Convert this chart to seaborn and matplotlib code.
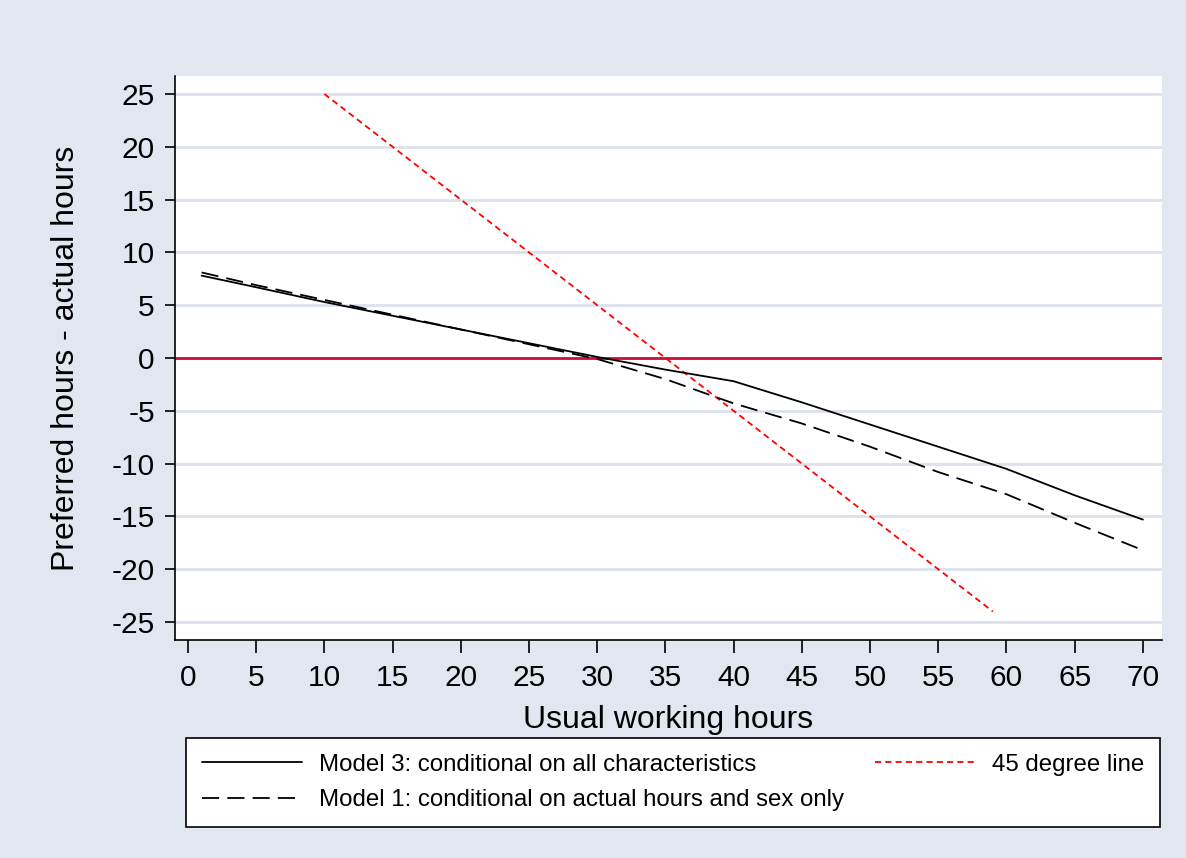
import matplotlib
matplotlib.use("Agg")
import matplotlib.pyplot as plt
import seaborn as sns
import pandas as pd

hours_m3 = [1, 5, 10, 15, 20, 25, 30, 35, 40, 42, 45, 50, 55, 60, 65, 70]
gap_m3 = [7.8, 6.7, 5.3, 4.0, 2.7, 1.4, 0.1, -1.1, -2.2, -3.0, -4.2, -6.3, -8.4, -10.5, -13.0, -15.3]
hours_m1 = [1, 5, 10, 15, 20, 25, 30, 35, 40, 45, 50, 55, 60, 65, 70]
gap_m1 = [8.1, 6.9, 5.5, 4.1, 2.7, 1.3, -0.1, -2.0, -4.3, -6.2, -8.4, -10.8, -12.9, -15.6, -18.2]
hours_45 = [10, 59]
gap_45 = [25, -24]
xticks = list(range(0, 71, 5))
yticks = list(range(-25, 26, 5))

label_m3 = "Model 3: conditional on all characteristics"
label_m1 = "Model 1: conditional on actual hours and sex only"
label_45 = "45 degree line"

sns.set_theme(style="white")
plt.rcParams['font.family'] = ['Liberation Sans', 'DejaVu Sans']
plt.rcParams['text.color'] = 'black'
plt.rcParams['axes.labelcolor'] = 'black'
plt.rcParams['xtick.color'] = 'black'
plt.rcParams['ytick.color'] = 'black'

bg = "#E2E6F0"
fig = plt.figure(figsize=(11.86, 8.58), dpi=100, facecolor=bg)
ax = fig.add_axes([175/1186, 1-640/858, (1162-175)/1186, (640-76)/858])
ax.set_facecolor("white")

for y in yticks:
    ax.axhline(y, color="#DDE1EC", lw=2, zorder=0)
ax.axhline(0, color="#C8103A", lw=2, zorder=1)

df3 = pd.DataFrame({"x": hours_m3, "y": gap_m3})
df1 = pd.DataFrame({"x": hours_m1, "y": gap_m1})
df45 = pd.DataFrame({"x": hours_45, "y": gap_45})

sns.lineplot(data=df3, x="x", y="y", ax=ax, color="black", lw=1.3, label=label_m3, zorder=3)
sns.lineplot(data=df1, x="x", y="y", ax=ax, color="black", lw=1.3, label=label_m1, zorder=3)
sns.lineplot(data=df45, x="x", y="y", ax=ax, color="#FF0000", lw=1.3, label=label_45, zorder=2)
for ln in ax.get_lines():
    if ln.get_label() == label_m1:
        ln.set_linestyle((0, (9.5, 4.5)))
    elif ln.get_label() == label_45:
        ln.set_linestyle((0, (3.4, 2.3)))

ax.set_xlim(-0.95, 71.4)
ax.set_ylim(-26.7, 26.7)
ax.set_xticks(xticks)
ax.set_yticks(yticks)
ax.set_xticklabels([str(v) for v in xticks], fontsize=21.5)
ax.set_yticklabels([str(v) for v in yticks], fontsize=21.5)
ax.tick_params(axis="x", direction="out", length=9, width=1.2, color="black", pad=8.5, bottom=True)
ax.tick_params(axis="y", direction="out", length=7.5, width=1.2, color="black", pad=7, left=True)
for s in ["top", "right"]:
    ax.spines[s].set_visible(False)
for s in ["left", "bottom"]:
    ax.spines[s].set_color("black")
    ax.spines[s].set_linewidth(1.2)

ax.set_xlabel("Usual working hours", fontsize=23, labelpad=9)
ax.set_ylabel("Preferred hours - actual hours", fontsize=23, labelpad=22)

handles, labels = ax.get_legend_handles_labels()
ax.get_legend().remove()
leg = fig.legend(handles, labels, ncol=2, loc="upper left",
                 bbox_to_anchor=(186/1186, 1-828/858, (1160-186)/1186, (828-738)/858),
                 mode="expand", fontsize=17.3, frameon=True, fancybox=False,
                 edgecolor="black", facecolor="white", framealpha=1,
                 handlelength=4.16, handletextpad=0.7, borderpad=0.66, labelspacing=0.55,
                 borderaxespad=0)
leg.get_frame().set_linewidth(1.2)

fig.savefig("out.png", dpi=100, facecolor=bg)
